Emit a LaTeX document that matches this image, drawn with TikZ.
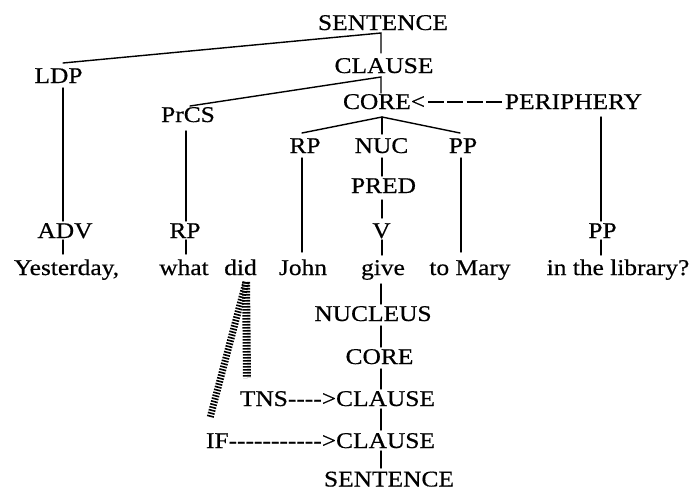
\documentclass[tikz,border=0pt]{standalone}
\usepackage{fontspec}
\setmainfont[FakeStretch=1.13,FakeBold=0.5]{Liberation Serif}
\begin{document}
\begin{tikzpicture}[x=1pt,y=-1pt,
  lbl/.style={inner sep=0pt,outer sep=0pt,anchor=base,font=\fontsize{22.5}{24}\selectfont},
  br/.style={line width=1.4pt,line cap=round},
  hatch/.style={line width=8pt,dash pattern=on 1.6pt off 1.4pt}]
\useasboundingbox[fill=white] (0,0) rectangle (694,491);
% --- labels (top tree)
\node[lbl] (sent) at (383,30) {SENTENCE};
\node[lbl] (clause) at (384,73) {CLAUSE};
\node[lbl,anchor=base west] (core) at (343,109) {CORE<};
\node[lbl,anchor=base west] (peri) at (505,109) {PERIPHERY};
\node[lbl] (ldp) at (58.5,83) {LDP};
\node[lbl] (prcs) at (188,122) {PrCS};
\node[lbl] (rpA) at (305,153) {RP};
\node[lbl] (nuc) at (381.5,153) {NUC};
\node[lbl] (ppA) at (463,153) {PP};
\node[lbl] (pred) at (383.5,193) {PRED};
\node[lbl] (adv) at (65,238) {ADV};
\node[lbl] (rpB) at (185,238) {RP};
\node[lbl] (v) at (381.5,238) {V};
\node[lbl] (ppB) at (602.5,238) {PP};
% --- words
\node[lbl] (yest) at (66.5,275) {Yesterday,};
\node[lbl] (what) at (184,275) {what};
\node[lbl] (did) at (240.5,275) {did};
\node[lbl] (john) at (303,275) {John};
\node[lbl] (give) at (383,275) {give};
\node[lbl] (mary) at (470,275) {to Mary};
\node[lbl] (lib) at (618,275) {in the library?};
% --- lower tree
\node[lbl] (nucleus) at (373,321) {NUCLEUS};
\node[lbl] (coreB) at (379.5,364) {CORE};
\node[lbl,anchor=base east] (clauseB) at (435,406) {TNS{-}{-}{-}{-}>CLAUSE};
\node[lbl,anchor=base east] (clauseC) at (435,448) {IF{-}{-}{-}{-}{-}{-}{-}{-}{-}{-}{-}>CLAUSE};
\node[lbl] (sentB) at (389,486.5) {SENTENCE};
% --- junction / end coordinates
\coordinate (jS) at (381,33);
\coordinate (jSb) at (381,53);
\coordinate (ldpT) at (63,63);
\coordinate (jC) at (381,77);
\coordinate (jCb) at (381,93);
\coordinate (prcsT) at (190,106);
\coordinate (jK) at (382,117);
\coordinate (rpAT) at (302,133);
\coordinate (nucT) at (382,134);
\coordinate (ppAT) at (460,133);
\coordinate (coreR) at (428,102);
\coordinate (periL) at (503,102);
% verticals
\coordinate (ldpB) at (63,88);   \coordinate (advT) at (63,221);
\coordinate (advB) at (63,240);  \coordinate (yestT) at (63,254);
\coordinate (prcsB) at (186,131);\coordinate (rpBT) at (186,221);
\coordinate (rpBB) at (186,240); \coordinate (whatT) at (186,254);
\coordinate (rpAB) at (302,158); \coordinate (johnT) at (302,252);
\coordinate (nucB) at (382,158); \coordinate (predT) at (382,176);
\coordinate (predB) at (382,200);\coordinate (vT) at (382,218);
\coordinate (vB) at (382,240);   \coordinate (giveT) at (382,255);
\coordinate (ppAB) at (461,158); \coordinate (maryT) at (461,252);
\coordinate (periB) at (601,117);\coordinate (ppBT) at (601,221);
\coordinate (ppBB) at (601,240); \coordinate (libT) at (601,255);
\coordinate (giveB) at (381,284);\coordinate (nucleusT) at (381,304);
\coordinate (nucleusB) at (381,326);\coordinate (coreBT) at (381,347);
\coordinate (coreBB) at (381,369);\coordinate (clauseBT) at (381,389);
\coordinate (clauseBB) at (381,409);\coordinate (clauseCT) at (381,430);
\coordinate (clauseCB) at (381,451);\coordinate (sentBT) at (381,468);
\coordinate (didB) at (246,282);
\coordinate (tnsT) at (247,378);
\coordinate (ifT) at (210,418);
% --- branches
\draw[br] (ldpT) -- (jS) -- (jSb);
\draw[br] (prcsT) -- (jC) -- (jCb);
\draw[br] (rpAT) -- (jK) -- (ppAT);
\draw[br] (jK) -- (nucT);
\draw[line width=1.4pt,dash pattern=on 16pt off 3.3pt] (coreR) -- (periL);
\foreach \a/\b in {ldpB/advT,advB/yestT,prcsB/rpBT,rpBB/whatT,rpAB/johnT,
  nucB/predT,predB/vT,vB/giveT,ppAB/maryT,periB/ppBT,ppBB/libT,
  giveB/nucleusT,nucleusB/coreBT,coreBB/clauseBT,clauseBB/clauseCT,clauseCB/sentBT}
  \draw[br] (\a) -- (\b);
% --- hatched links from "did"
\draw[hatch] (didB) -- (tnsT);
\draw[hatch,line width=7pt] (didB) -- (ifT);
\end{tikzpicture}
\end{document}
